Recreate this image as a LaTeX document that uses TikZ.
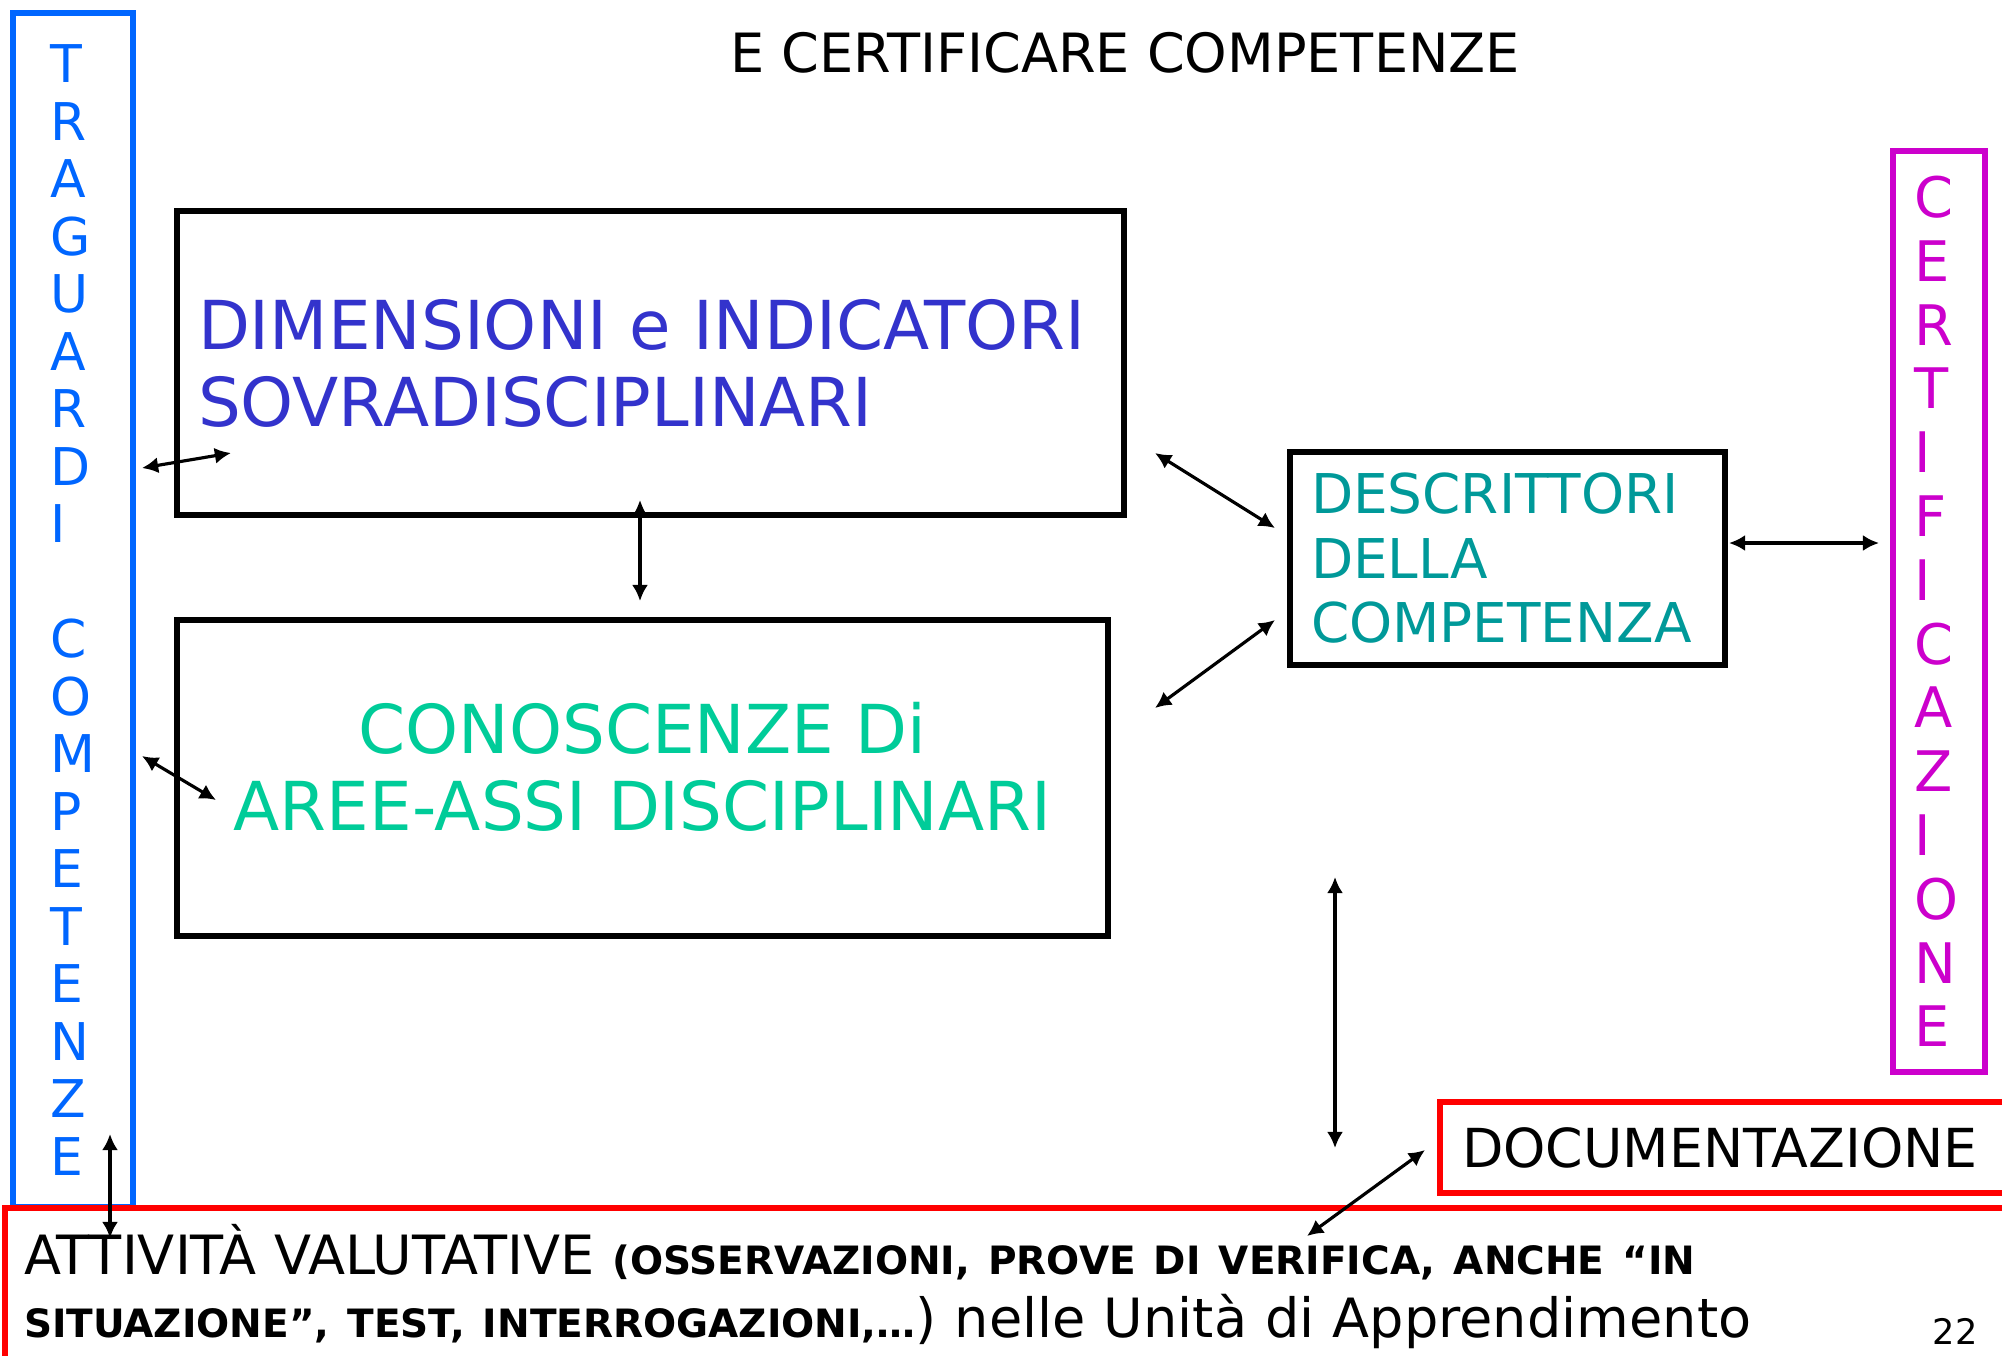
\documentclass[tikz,border=0pt]{standalone}
\usepackage{fontspec}
\setmainfont{DejaVu Sans}
\usetikzlibrary{arrows.meta, positioning, calc}
\definecolor{trablue}{HTML}{0066FF}
\definecolor{dimblue}{HTML}{3333CC}
\definecolor{congreen}{HTML}{00CC99}
\definecolor{desteal}{HTML}{009999}
\definecolor{certmag}{HTML}{CC00CC}
\definecolor{docred}{HTML}{FF0000}
\newcommand{\smallbold}[1]{{\bfseries\fontsize{11.1pt}{17.9pt}\selectfont #1}}

\begin{document}
\begin{tikzpicture}[x=0.1mm, y=-0.1mm,
      box/.style={draw, line width=1.6pt, inner ysep=0pt},
      bigtext/.style={font=\fontsize{19.2pt}{21.9pt}\selectfont},
      biarrow/.style={{Latex[length=4.6pt,width=4.6pt]}-{Latex[length=4.6pt,width=4.6pt]}, line width=0.9pt}]
      \useasboundingbox (0,0) rectangle (2002,1355);

      \node[anchor=base, font=\fontsize{15.4pt}{18pt}\selectfont] (title) at (1125,72) {E CERTIFICARE COMPETENZE};

      \node[box, draw=trablue, line width=1.8pt, text=trablue, text width=4.6mm, inner xsep=3.7mm, minimum height=119.4mm, align=left,
            font=\fontsize{14.8pt}{16.36pt}\selectfont] (trag) at (73,610)
            {T\\R\\A\\G\\U\\A\\R\\D\\I\\\mbox{}\\C\\O\\M\\P\\E\\T\\E\\N\\Z\\E};

      \node[box, bigtext, text=dimblue, text width=90.5mm, inner xsep=2.1mm, minimum height=30.4mm, align=left] (dim) at (650.5,363)
            {DIMENSIONI e INDICATORI\\SOVRADISCIPLINARI};
      \node[box, bigtext, text=congreen, minimum width=93.1mm, minimum height=31.6mm, align=center,
            text height=11.4mm, text depth=1mm] (con) at (642.5,778)
            {CONOSCENZE Di\\AREE-ASSI DISCIPLINARI};
      \node[box, text=desteal, text width=39.3mm, inner xsep=2.1mm, minimum height=21.3mm, align=left,
            font=\fontsize{15.6pt}{18.35pt}\selectfont] (desc) at (1507.5,558.5)
            {DESCRITTORI\\DELLA\\COMPETENZA};

      \node[draw=certmag, line width=1.5pt, text=certmag, text width=5mm, inner xsep=2.1mm, minimum height=92.1mm, align=left,
            font=\fontsize{15.9pt}{18.15pt}\selectfont] (cert) at (1939,611.5)
            {C\\E\\R\\T\\I\\F\\I\\C\\A\\Z\\I\\O\\N\\E};

      \node[box, draw=docred, line width=1.8pt, text width=52.6mm, inner xsep=2.2mm, minimum height=9.1mm, align=left,
            font=\fontsize{15.3pt}{18pt}\selectfont] (doc) at (1725,1147.5) {DOCUMENTAZIONE};

      \node[box, draw=docred, line width=1.8pt, text width=196.7mm, inner xsep=1.9mm, minimum height=15.7mm, align=left,
            font=\fontsize{15.4pt}{17.9pt}\selectfont] (att) at (1007.5,1286.5)
            {ATTIVITÀ VALUTATIVE \smallbold{(OSSERVAZIONI, PROVE DI VERIFICA, ANCHE “IN}\\\smallbold{SITUAZIONE”, TEST, INTERROGAZIONI,…}) nelle Unità di Apprendimento};

      \node[anchor=base, font=\fontsize{10pt}{12pt}\selectfont] (pagenum) at (1955,1344) {22};

      \coordinate (a1) at (142,468);
      \coordinate (b1) at (231,453);
      \coordinate (a2) at (142,756);
      \coordinate (b2) at (216,800);
      \coordinate (a3) at (640,500);
      \coordinate (b3) at (640,601);
      \coordinate (a4) at (1155,453);
      \coordinate (b4) at (1275,528);
      \coordinate (a5) at (1155,708);
      \coordinate (b5) at (1275,620);
      \coordinate (a6) at (1729,543);
      \coordinate (b6) at (1879,543);
      \coordinate (a7) at (1335,877);
      \coordinate (b7) at (1335,1148);
      \coordinate (a8) at (1307,1236);
      \coordinate (b8) at (1425,1150);
      \coordinate (a9) at (110,1134);
      \coordinate (b9) at (110,1238);

      \draw[biarrow] (a1) -- (b1);
      \draw[biarrow] (a2) -- (b2);
      \draw[biarrow] (a3) -- (b3);
      \draw[biarrow] (a4) -- (b4);
      \draw[biarrow] (a5) -- (b5);
      \draw[biarrow] (a6) -- (b6);
      \draw[biarrow] (a7) -- (b7);
      \draw[biarrow] (a8) -- (b8);
      \draw[biarrow] (a9) -- (b9);

    \end{tikzpicture}
\end{document}
